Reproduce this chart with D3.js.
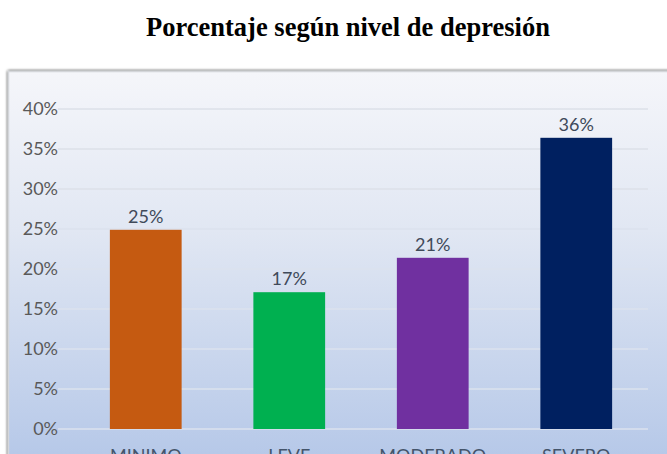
<!DOCTYPE html>
<html>
<head>
<meta charset="utf-8">
<script src="https://cdn.jsdelivr.net/npm/d3@7"></script>
<style>
  html, body { margin: 0; padding: 0; background: #ffffff; overflow: hidden; }
  svg { display: block; }
</style>
</head>
<body>
<svg id="chart" width="667" height="454"></svg>
<script>
// Depression level categories and their share of respondents
const categories = ["MINIMO", "LEVE", "MODERADO", "SEVERO"];
const values = [0.249, 0.171, 0.214, 0.364];
const barColors = ["#c55a11", "#00b050", "#7030a0", "#002060"];
const yTicks = [0, 0.05, 0.10, 0.15, 0.20, 0.25, 0.30, 0.35, 0.40];
const title = "Porcentaje según nivel de depresión";

const svg = d3.select("#chart");
const W = 667, H = 454;

// Background gradient of the chart area
const defs = svg.append("defs");
const grad = defs.append("linearGradient")
  .attr("id", "bg").attr("x1", 0).attr("y1", 0).attr("x2", 0).attr("y2", 1);
grad.append("stop").attr("offset", "0%").attr("stop-color", "#f5f6fa");
grad.append("stop").attr("offset", "35%").attr("stop-color", "#e1e7f3");
grad.append("stop").attr("offset", "100%").attr("stop-color", "#a9bfe5");

const shadow = defs.append("filter").attr("id", "shadow")
  .attr("x", "-5%").attr("y", "-5%").attr("width", "110%").attr("height", "110%");
shadow.append("feGaussianBlur").attr("in", "SourceAlpha").attr("stdDeviation", 1.5);
shadow.append("feOffset").attr("dx", 0).attr("dy", 0).attr("result", "b");
const merge = shadow.append("feMerge");
merge.append("feMergeNode").attr("in", "b");
merge.append("feMergeNode").attr("in", "SourceGraphic");

// Title
svg.append("text")
  .attr("x", 348).attr("y", 36)
  .attr("text-anchor", "middle")
  .attr("font-family", "'Liberation Serif', 'Times New Roman', serif")
  .attr("font-weight", "bold")
  .attr("font-size", 26.5)
  .attr("fill", "#000")
  .text(title);

// Chart frame
svg.append("rect")
  .attr("x", 8.5).attr("y", 71.5)
  .attr("width", W).attr("height", H)
  .attr("fill", "url(#bg)")
  .attr("stroke", "#d4d6da").attr("stroke-width", 1.5)
  .attr("filter", "url(#shadow)");

// Scales
const x = d3.scaleBand().domain(categories).range([74, 648]).paddingInner(0.5).paddingOuter(0.25);
const y = d3.scaleLinear().domain([0, 0.40]).range([429, 109]);

const font = "Lato, 'Open Sans', 'DejaVu Sans', sans-serif";

// Gridlines
svg.append("g").selectAll("line").data(yTicks).join("line")
  .attr("x1", 58).attr("x2", 648)
  .attr("y1", d => y(d)).attr("y2", d => y(d))
  .attr("stroke", d => d >= 0.30 ? "#dde1e8" : "#dbe2ee")
  .attr("stroke-width", 1.5);

// Y axis labels
const yAxis = d3.axisLeft(y).tickValues(yTicks).tickFormat(d3.format(".0%")).tickSize(0).tickPadding(0);
const gy = svg.append("g").attr("transform", "translate(58,0)").call(yAxis);
gy.select(".domain").remove();
gy.selectAll("text")
  .attr("font-family", font).attr("font-size", 18)
  .attr("fill", "#595959");

// Bars
svg.append("g").selectAll("rect").data(categories).join("rect")
  .attr("x", d => x(d))
  .attr("y", (d, i) => y(values[i]))
  .attr("width", x.bandwidth())
  .attr("height", (d, i) => y(0) - y(values[i]))
  .attr("fill", (d, i) => barColors[i]);

// Value labels
svg.append("g").selectAll("text").data(categories).join("text")
  .attr("x", d => x(d) + x.bandwidth() / 2)
  .attr("y", (d, i) => y(values[i]) - 7)
  .attr("text-anchor", "middle")
  .attr("font-family", font).attr("font-size", 18)
  .attr("fill", "#404a5a")
  .text((d, i) => d3.format(".0%")(values[i]));

// Category axis
const xAxis = d3.axisBottom(x).tickSize(0).tickPadding(0);
const gx = svg.append("g").attr("transform", "translate(0,462)").call(xAxis);
gx.select(".domain").remove();
gx.selectAll("text")
  .attr("dy", 0)
  .attr("font-family", font).attr("font-size", 18)
  .attr("fill", "#44546a");
</script>
</body>
</html>
